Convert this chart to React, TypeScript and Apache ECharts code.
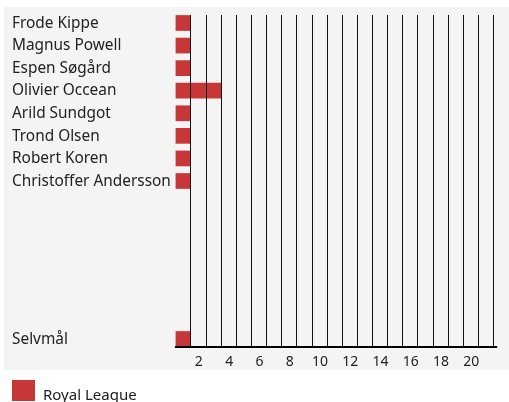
import React, { useEffect, useRef } from "react";
import * as echarts from "echarts";

const categories = [
  "Frode Kippe",
  "Magnus Powell",
  "Espen Søgård",
  "Olivier Occean",
  "Arild Sundgot",
  "Trond Olsen",
  "Robert Koren",
  "Christoffer Andersson",
  "",
  " ",
  "  ",
  "   ",
  "    ",
  "     ",
  "Selvmål",
];
const goals = [1, 1, 1, 3, 1, 1, 1, 1, null, null, null, null, null, null, 1];
const seriesName = "Royal League";
const xMax = 21.2;

export default function App() {
  const ref = useRef<HTMLDivElement>(null);
  useEffect(() => {
    if (!ref.current) return;
    const chart = echarts.init(ref.current, undefined, { renderer: "svg" });
    const font = "Noto Sans";
    const left = 175.6;
    const width = 320.8;
    chart.setOption({
      animation: false,
      textStyle: { fontFamily: font },
      graphic: [
        {
          type: "rect",
          z: -100,
          shape: { x: 4, y: 7, width: 505, height: 363 },
          style: { fill: "#f4f4f4" },
        },
      ],
      legend: {
        data: [seriesName],
        left: 12,
        top: 380,
        padding: 0,
        icon: "rect",
        itemWidth: 23,
        itemHeight: 21,
        itemGap: 10,
        formatter: (name: string) => `{t|${name}}`,
        textStyle: {
          fontSize: 15,
          color: "#222",
          fontFamily: font,
          rich: {
            t: {
              fontSize: 15,
              color: "#222",
              fontFamily: font,
              padding: [6, 0, 0, 3],
            },
          },
        },
      },
      grid: [
        { left, width, top: 8.4, height: 338.6, containLabel: false },
        { left, width, top: 15, height: 332, containLabel: false },
      ],
      xAxis: [
        {
          type: "value",
          gridIndex: 0,
          min: 0,
          max: xMax,
          interval: 2,
          axisLine: { show: true, onZero: false, lineStyle: { color: "#000", width: 2 } },
          axisTick: { show: false },
          splitLine: { show: false },
          axisLabel: {
            margin: 6,
            fontSize: 14,
            color: "#222",
            fontFamily: font,
            padding: [0, 14, 0, 0],
            showMaxLabel: false,
            formatter: (v: number) => (v > 0 && v % 2 === 0 ? String(v) : ""),
          },
          z: 6,
        },
        {
          type: "value",
          gridIndex: 1,
          min: 0,
          max: xMax,
          interval: 1,
          axisLine: { show: false },
          axisTick: { show: false },
          axisLabel: { show: false },
          splitLine: {
            show: true,
            showMinLine: false,
            showMaxLine: false,
            lineStyle: { color: "#111", width: 1 },
          },
          z: 5,
        },
      ],
      yAxis: [
        {
          type: "category",
          gridIndex: 0,
          inverse: true,
          data: categories,
          axisLine: { show: false },
          axisTick: { show: false },
          axisLabel: {
            align: "left",
            margin: 163.6,
            fontSize: 15.4,
            color: "#222",
            fontFamily: font,
            formatter: (v: string) => (v.trim() ? `{t|${v}}` : ""),
            rich: {
              t: {
                fontSize: 15.4,
                color: "#222",
                fontFamily: font,
                padding: [5, 0, 0, 0],
              },
            },
          },
        },
        {
          type: "value",
          gridIndex: 1,
          min: 0,
          max: 1,
          show: false,
          splitLine: { show: false },
        },
      ],
      series: [
        {
          name: "_spacer",
          type: "bar",
          xAxisIndex: 0,
          yAxisIndex: 0,
          barWidth: 6.6,
          barGap: "0%",
          data: goals.map(() => null),
          itemStyle: { color: "transparent" },
          silent: true,
        },
        {
          name: seriesName,
          type: "bar",
          xAxisIndex: 0,
          yAxisIndex: 0,
          barWidth: 15.7,
          barGap: "0%",
          data: goals,
          itemStyle: { color: "#c83737" },
        },
      ],
    });
    return () => chart.dispose();
  }, []);
  return (
    <div
      ref={ref}
      style={{ position: "fixed", left: 0, top: 0, width: 509, height: 402 }}
    />
  );
}
